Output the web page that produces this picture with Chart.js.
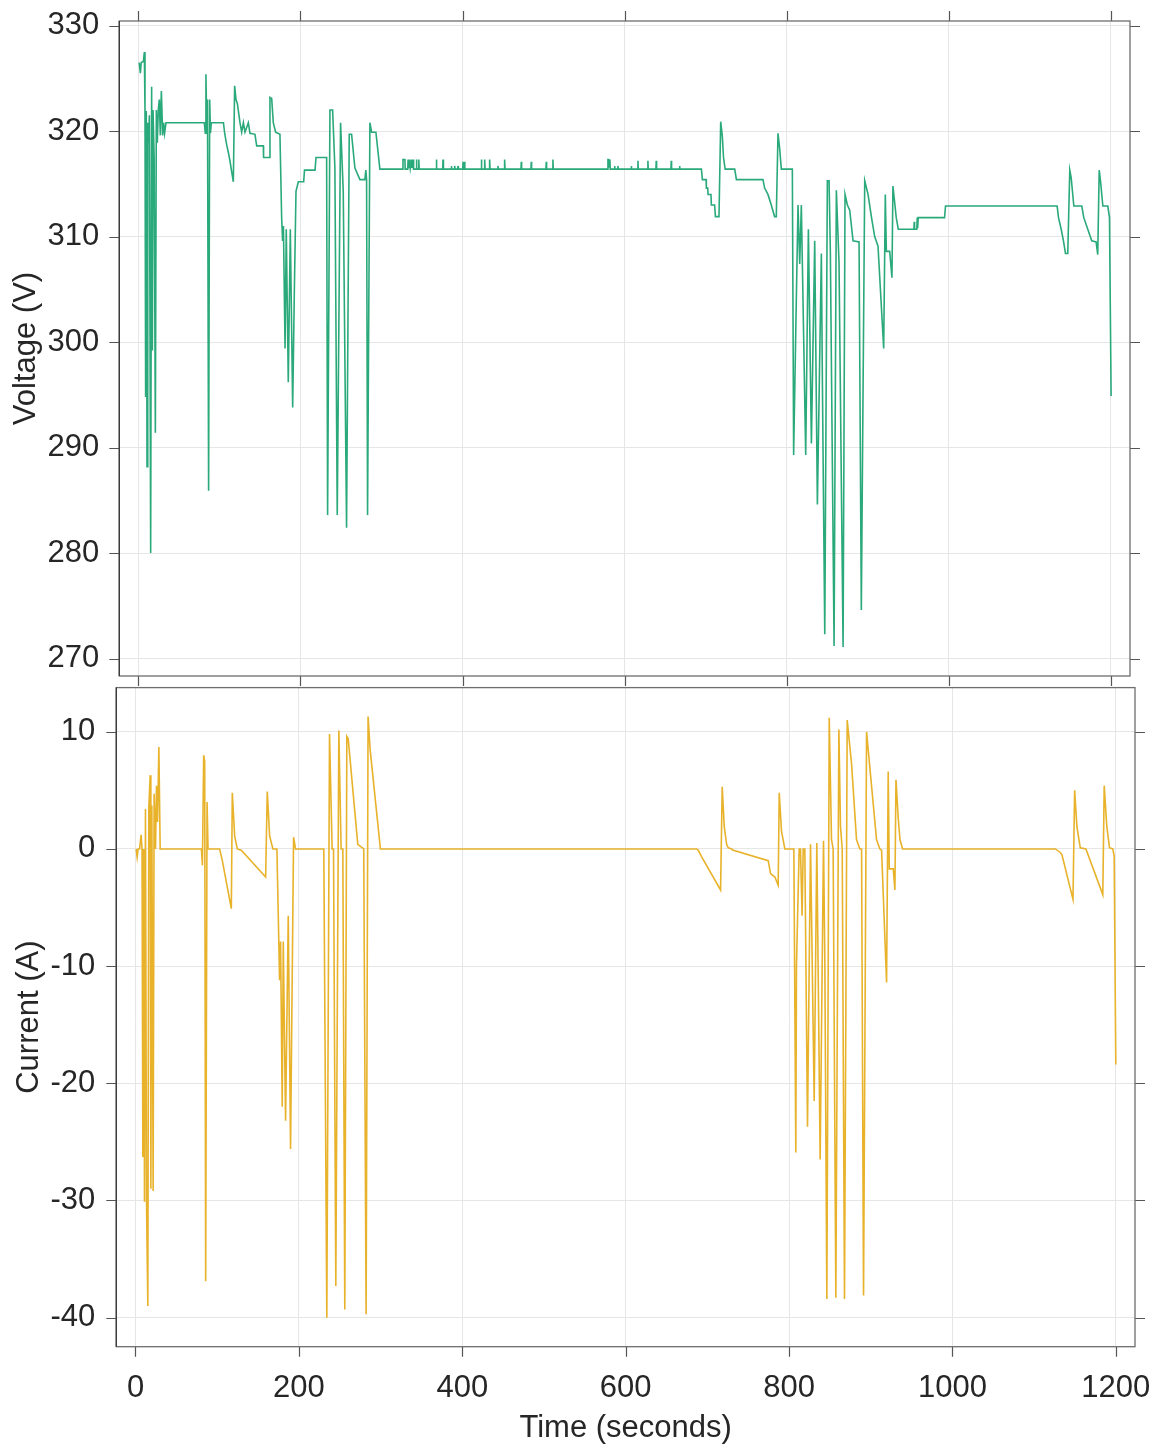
<!DOCTYPE html>
<html>
<head>
<meta charset="utf-8">
<script src="https://cdn.jsdelivr.net/npm/chart.js@4.4.1/dist/chart.umd.min.js"></script>
<style>
  html, body { margin: 0; padding: 0; background: #fff; }
  #page { position: relative; width: 1157px; height: 1450px; overflow: hidden; background: #fff; }
  canvas { position: absolute; left: 0; }
  #voltageCanvas { top: -30px; }
  #currentCanvas { top: 640px; }
</style>
</head>
<body>
<div id="page">
  <canvas id="voltageCanvas" width="1220" height="760"></canvas>
  <canvas id="currentCanvas" width="1220" height="810"></canvas>
</div>
<script>
// Pack voltage (V) against time (s)
const voltageTime = [
  1.0, 2.5, 3.5, 6.2, 7.4, 8.2, 9.0, 9.8, 10.7, 11.6, 12.8, 13.6, 15.2, 16.4, 17.3, 18.1, 19.5, 21.0, 22.2, 23.4,
  24.6, 25.9, 27.1, 28.4, 30.0, 31.2, 32.4, 34.1, 81.4, 82.6, 83.4, 84.5, 85.3, 86.7, 88.0, 89.0, 90.0, 105.0,
  106.5, 109.0, 111.0, 113.0, 115.0, 117.2, 118.8, 120.5, 122.2, 125.4, 127.5, 129.6, 131.6, 135.7, 137.7, 143.9,
  146.0, 154.2, 154.5, 161.2, 162.4, 164.5, 166.5, 169.4, 174.7, 176.8, 178.0, 179.0, 181.0, 182.5, 185.0, 187.5,
  190.4, 192.5, 194.5, 197.4, 204.0, 205.0, 218.0, 219.2, 232.3, 233.5, 236.4, 239.7, 242.5, 245.4, 249.5, 252.8,
  256.9, 260.2, 263.1, 267.2, 273.4, 279.5, 280.7, 281.6, 282.8, 285.7, 287.8, 293.1, 298.0,
  326.2, 326.5, 328.9, 329.2, 332.4, 332.8, 333.5, 334.5, 335.5, 336.9, 337.5, 339.0, 339.6, 342.7, 343.1, 343.6,
  345.6, 346.0, 346.5, 367.3, 367.7, 368.2, 375.5, 375.9, 376.4, 385.9, 386.2, 386.6, 390.0, 390.3, 390.7, 394.1,
  394.4, 394.8, 400.2, 400.6, 401.0, 402.2, 402.6, 403.0, 422.8, 423.2, 423.7, 426.9, 427.3, 427.8, 433.0, 433.4,
  433.9, 443.4, 443.7, 444.1, 451.5, 451.9, 452.4, 472.1, 472.5, 472.9, 484.4, 484.8, 485.2, 502.9, 503.3, 503.7,
  511.1, 511.5, 511.9, 579.0, 579.4, 580.4, 581.4, 581.8, 582.2, 587.3, 587.6, 588.0, 591.4, 591.7, 592.1, 607.9,
  608.2, 608.6, 616.0, 616.4, 616.8, 628.3, 628.7, 629.1, 638.6, 639.0, 639.4, 657.1, 657.5, 657.9, 667.5, 667.8,
  668.2, 694.7,
  695.9, 700.5, 700.8, 702.5, 702.9, 706.5, 707.0, 711.0, 712.0, 716.4, 718.5, 720.5, 722.0, 724.0, 735.8, 737.9,
  770.7, 772.7, 776.8, 780.9, 785.0, 787.1, 789.2, 791.2, 793.3, 806.9, 808.5, 811.8, 813.9, 816.0, 818.0, 823.4,
  826.7, 830.4, 834.5, 837.8, 842.7, 844.0, 846.9, 850.1, 852.2, 853.8, 858.4, 861.2, 864.5, 869.5, 871.9, 874.8,
  877.7, 881.8, 889.2, 892.0, 896.2, 900.3, 904.4, 908.5, 912.6, 919.6, 921.6, 922.9, 927.0, 929.8, 931.0, 935.1,
  937.6, 956.9, 957.3, 957.7, 960.5, 961.0, 961.5, 962.2, 994.7, 995.9, 1133.6, 1135.3, 1138.6, 1141.4, 1143.9,
  1146.7, 1149.2, 1150.9, 1154.2, 1164.0, 1166.5, 1171.4, 1176.3, 1181.7, 1183.7, 1185.5, 1187.1, 1190.0, 1196.1,
  1198.2, 1200.2
];
const voltageValue = [
  326.5, 325.5, 326.5, 326.6, 327.5, 322.0, 294.8, 321.9, 288.2, 320.8, 318.9, 321.5, 280.0, 324.2, 299.2, 322.0, 317.5, 291.4, 322.0, 318.9,
  322.0, 323.0, 319.6, 323.8, 319.6, 320.8, 319.8, 320.8, 320.8, 319.8, 325.4, 320.0, 323.0, 285.9, 323.0, 319.8, 320.8, 320.8,
  319.8, 318.7, 318.0, 317.2, 316.2, 315.2, 324.3, 323.0, 322.6, 320.8, 319.9, 320.8, 319.9, 320.8, 319.8, 319.7,
  318.6, 318.6, 317.5, 317.5, 323.2, 323.1, 320.8, 319.9, 319.7, 311.8, 309.6, 311.0, 299.4, 310.7, 296.2, 310.7,
  293.8, 305.0, 314.3, 315.2, 315.2, 316.3, 316.3, 317.5, 317.5, 283.6, 322.0, 322.0, 316.5, 283.6, 320.8, 314.3,
  282.4, 319.7, 319.7, 316.5, 315.4, 315.4, 316.3, 315.4, 283.6, 320.8, 319.9, 319.9, 316.4,
  316.4, 317.3, 317.3, 316.4, 316.4, 317.3, 316.5, 317.3, 316.5, 317.3, 316.5, 317.3, 316.4, 316.4, 317.3, 316.4,
  316.4, 317.3, 316.4, 316.4, 317.3, 316.4, 316.4, 317.3, 316.4, 316.4, 316.7, 316.4, 316.4, 316.7, 316.4, 316.4,
  316.7, 316.4, 316.4, 317.1, 316.4, 316.4, 317.1, 316.4, 316.4, 317.3, 316.4, 316.4, 317.3, 316.4, 316.4, 317.3,
  316.4, 316.4, 316.7, 316.4, 316.4, 317.3, 316.4, 316.4, 317.1, 316.4, 316.4, 317.1, 316.4, 316.4, 317.1, 316.4,
  316.4, 317.3, 316.4, 316.4, 317.3, 317.3, 316.6, 317.3, 316.4, 316.4, 316.7, 316.4, 316.4, 316.7, 316.4, 316.4,
  316.7, 316.4, 316.4, 317.2, 316.4, 316.4, 317.2, 316.4, 316.4, 317.2, 316.4, 316.4, 317.2, 316.4, 316.4, 316.7,
  316.4, 316.4,
  315.4, 315.4, 314.6, 314.6, 314.0, 314.0, 313.0, 313.0, 311.9, 311.9, 320.9, 319.5, 317.5, 316.4, 316.4, 315.4,
  315.4, 314.6, 314.0, 313.0, 311.9, 311.9, 319.8, 318.4, 316.4, 316.4, 289.3, 304.0, 313.0, 307.4, 313.0, 289.3,
  310.7, 290.4, 309.6, 284.6, 308.4, 296.0, 272.3, 315.3, 315.3, 308.6, 271.2, 314.4, 307.5, 271.1, 314.0, 313.0,
  312.5, 309.6, 309.5, 274.6, 315.3, 314.0, 311.9, 310.0, 309.1, 299.4, 314.0, 308.6, 308.6, 306.1, 314.8, 311.8,
  310.7, 310.7, 311.4, 310.7, 310.7, 311.8, 310.8, 311.8, 311.8, 312.9, 312.9, 311.8, 310.7, 309.6, 308.4,
  308.4, 316.3, 315.6, 312.9, 312.9, 311.8, 310.7, 309.6, 309.5, 308.3, 316.3, 315.3, 312.9, 312.9,
  311.8, 294.9
];

// Pack current (A) against time (s)
const currentTime = [
  0.8, 2.0, 3.2, 5.0, 6.9, 8.0, 9.0, 10.2, 11.0, 12.2, 13.5, 15.1, 16.3, 18.0, 18.8, 20.0, 21.6, 22.8, 24.5, 25.7,
  27.0, 28.6, 30.2, 80.7, 81.9, 83.5, 84.7, 85.9, 87.6, 88.8, 103.0, 106.3, 117.3, 118.5, 121.4, 124.6, 129.5, 159.3,
  161.3, 164.2, 168.2, 173.1, 176.4, 177.6, 179.6, 180.9, 183.7, 187.0, 189.8, 193.5, 195.9, 230.5, 234.2, 237.5,
  240.7, 242.4, 245.2, 248.9, 251.7, 253.8, 256.2, 258.7, 260.4, 272.1, 279.4, 282.3, 284.7, 287.2, 299.8,
  686.8, 688.8, 692.9, 716.2, 718.2, 720.7, 723.6, 725.6, 729.7, 730.9, 774.5, 777.4, 782.7, 786.7, 788.0, 790.8,
  794.9, 805.9, 808.3, 809.1, 812.4, 814.0, 816.0, 817.3, 819.3, 822.6, 826.3, 830.8, 834.0, 838.1, 842.2, 843.8,
  846.3, 849.2, 852.0, 854.0, 857.3, 861.0, 863.0, 865.1, 867.9, 871.2, 876.5, 882.6, 886.7, 888.8, 891.2, 894.9,
  899.0, 907.1, 911.2, 913.3, 919.4, 921.4, 922.7, 927.6, 929.6, 930.9, 933.7, 935.8, 939.0,
  1126.0, 1132.1, 1134.1, 1147.6, 1149.6, 1152.4, 1156.5, 1163.4, 1184.1, 1185.8, 1189.0, 1192.3, 1196.3, 1198.0, 1200.0
];
const currentValue = [
  0, -0.7, 0, 0, 1.2, 0, -26.3, 0, -30.1, 3.4, -30.1, -39.0, 3.5, 6.3, -29.0, 3.7, -29.2, 4.7, 0, 5.4,
  2.3, 8.7, 0, 0, -1.4, 8.0, 7.5, -36.9, 4.0, 0, 0, -1.0, -5.1, 4.8, 1.1, 0, -0.1, -2.4,
  4.9, 1.1, 0, 0, -11.2, -7.9, -22.0, -7.9, -23.2, -5.7, -25.6, 1.0, 0, 0, -40.0, 9.8,
  0, 0, -37.3, 10.1, 0, 0, -39.3, 9.6, 9.4, 0.4, 0, -39.7, 11.3, 8.5, 0,
  0, -0.1, -0.65, -3.5, 5.3, 1.9, 0.4, 0.1, 0, -0.1, -1.0, -2.1, -2.4, -3.1, 4.8, 1.5,
  0, 0, -25.9, -10.0, 0, 0, -5.7, 0, 0, -23.7, 0.4, -21.5, 0.5, -26.5, 0.7, -9.3,
  -38.4, 11.2, 0.8, 0, -38.3, 10.2, 1.9, 0, -38.4, 11.0, 7.3, 0.8, 0, 0, -38.1, 10.0,
  6.9, 0.8, 0, -0.1, -11.4, 6.6, -1.7, -1.7, -3.5, 5.9, 2.6, 0.8, 0,
  0, -0.3, -0.5, -4.3, 5.0, 1.9, 0.1, 0, -3.9, 5.4, 1.9, 0.1, 0, -0.6, -18.4
];

const timeTicks = [0, 200, 400, 600, 800, 1000, 1200];
const voltageTicks = [270, 280, 290, 300, 310, 320, 330];
const currentTicks = [-40, -30, -20, -10, 0, 10];

const FONT = '"Liberation Sans", Arial, Helvetica, sans-serif';
const TEXT = '#262626';
const GRID = '#e6e6e6';

// Box outline plus outward tick marks on the requested sides
const panelFrame = {
  id: 'panelFrame',
  afterDraw(chart, args, o) {
    const { ctx, chartArea: a } = chart;
    const xs = chart.scales.x, ys = chart.scales.y;
    const len = o.len;
    ctx.save();
    ctx.lineWidth = 1.2;
    ctx.strokeStyle = o.tickColor;
    ctx.beginPath();
    xs.ticks.forEach(t => {
      const p = Math.round(xs.getPixelForValue(t.value)) + 0.5;
      if (o.topTicks) { ctx.moveTo(p, a.top); ctx.lineTo(p, a.top - len); }
      ctx.moveTo(p, a.bottom); ctx.lineTo(p, a.bottom + len);
    });
    ys.ticks.forEach(t => {
      const p = Math.round(ys.getPixelForValue(t.value)) + 0.5;
      ctx.moveTo(a.left, p); ctx.lineTo(a.left - len, p);
      ctx.moveTo(a.right, p); ctx.lineTo(a.right + len, p);
    });
    ctx.stroke();
    ctx.lineWidth = 1.3;
    ctx.strokeStyle = o.boxColor;
    ctx.strokeRect(a.left, a.top, a.right - a.left, a.bottom - a.top);
    ctx.strokeStyle = o.leftColor;
    ctx.beginPath();
    ctx.moveTo(a.left, a.top);
    ctx.lineTo(a.left, a.bottom);
    ctx.stroke();
    ctx.restore();
  }
};

function makePanel(canvasId, cfg) {
  return new Chart(document.getElementById(canvasId), {
    type: 'line',
    data: {
      datasets: [{
        data: cfg.times.map((t, i) => ({ x: t, y: cfg.values[i] })),
        borderColor: cfg.color,
        borderWidth: 1.6,
        pointRadius: 0,
        tension: 0,
        fill: false
      }]
    },
    options: {
      responsive: false,
      animation: false,
      events: [],
      layout: { padding: { top: cfg.padTop, right: cfg.padRight, left: 0, bottom: 0 } },
      plugins: {
        legend: { display: false },
        tooltip: { enabled: false },
        panelFrame: { len: 10, tickColor: '#555', boxColor: '#6e6e6e', leftColor: '#3a3a3a', topTicks: cfg.topTicks }
      },
      scales: {
        x: {
          type: 'linear',
          min: -23.5,
          max: 1223.5,
          afterBuildTicks: s => { s.ticks = timeTicks.map(v => ({ value: v })); },
          afterFit: s => { s.height = cfg.xHeight; },
          grid: { color: GRID, lineWidth: 1, drawTicks: false },
          border: { display: false },
          ticks: {
            display: cfg.showTimeLabels,
            autoSkip: false,
            maxRotation: 0,
            padding: 23,
            color: TEXT,
            font: { family: FONT, size: 31 },
            callback: v => String(v)
          },
          title: {
            display: cfg.showTimeLabels,
            text: 'Time (seconds)',
            color: TEXT,
            font: { family: FONT, size: 31 },
            padding: { top: 0, bottom: 3 }
          }
        },
        y: {
          type: 'linear',
          min: cfg.yMin,
          max: cfg.yMax,
          afterBuildTicks: s => { s.ticks = cfg.yTicks.map(v => ({ value: v })); },
          afterFit: s => { s.width = cfg.yWidth; },
          grid: { color: GRID, lineWidth: 1, drawTicks: false },
          border: { display: false },
          ticks: {
            autoSkip: false,
            padding: cfg.yPad,
            color: TEXT,
            font: { family: FONT, size: 31 },
            callback: v => String(v)
          },
          title: {
            display: true,
            text: cfg.yTitle,
            color: TEXT,
            font: { family: FONT, size: 31 },
            padding: { top: cfg.yTitlePad, bottom: 0 }
          }
        }
      }
    },
    plugins: [panelFrame]
  });
}

makePanel('voltageCanvas', {
  times: voltageTime, values: voltageValue, color: '#2aa97b',
  padTop: 51, padRight: 90, xHeight: 54, yWidth: 119.3, yPad: 20,
  yMin: 268.35, yMax: 330.44, yTicks: voltageTicks,
  yTitle: 'Voltage (V)', yTitlePad: 8, showTimeLabels: false, topTicks: true
});

makePanel('currentCanvas', {
  times: currentTime, values: currentValue, color: '#e8b22a',
  padTop: 47.6, padRight: 85, xHeight: 103.3, yWidth: 116.3, yPad: 21,
  yMin: -42.48, yMax: 13.77, yTicks: currentTicks,
  yTitle: 'Current (A)', yTitlePad: 11, showTimeLabels: true, topTicks: false
});
</script>
</body>
</html>
